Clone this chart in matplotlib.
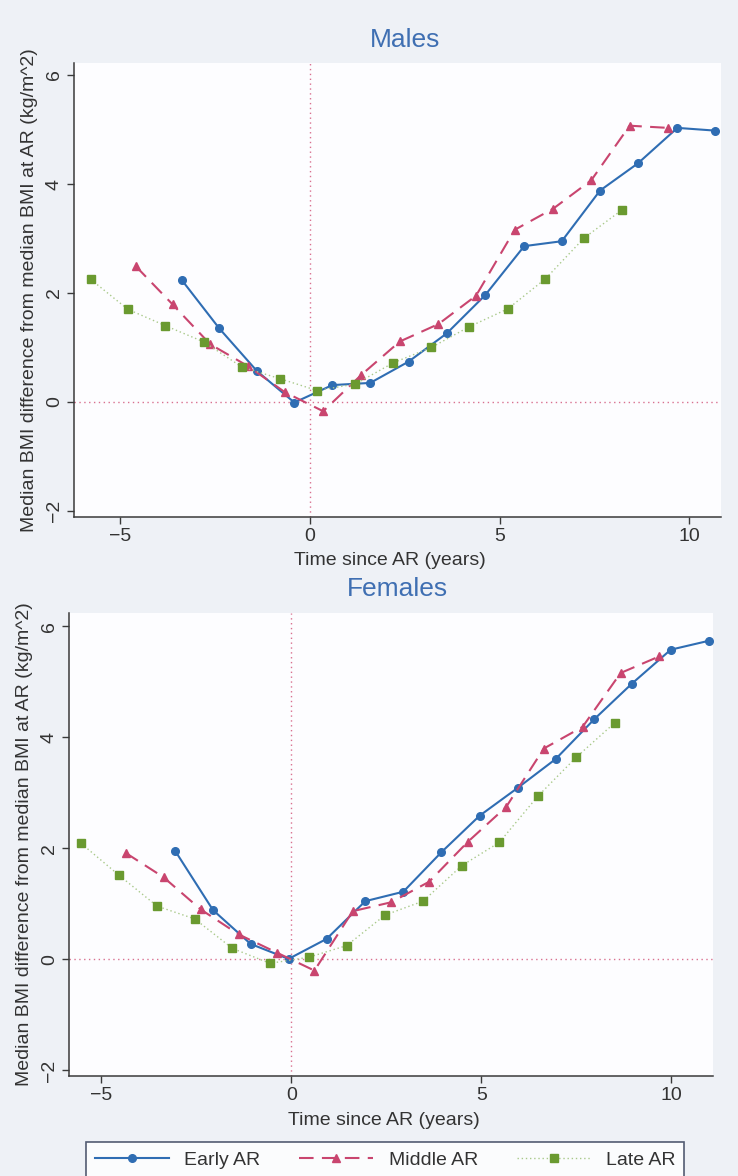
import matplotlib
matplotlib.use("Agg")
import matplotlib.pyplot as plt
from matplotlib.lines import Line2D

plt.rcParams['font.family'] = ['Liberation Sans', 'DejaVu Sans']

# ---------------- data ----------------
m_early_x = [-3.37, -2.39, -1.40, -0.41, 0.59, 1.59, 2.60, 3.61, 4.62, 5.65, 6.64, 7.65, 8.65, 9.69, 10.68]
m_early_y = [2.23, 1.35, 0.57, -0.01, 0.31, 0.35, 0.74, 1.26, 1.96, 2.86, 2.95, 3.88, 4.38, 5.03, 4.98]

m_mid_x = [-4.59, -3.62, -2.63, -1.64, -0.66, 0.35, 1.36, 2.37, 3.39, 4.38, 5.40, 6.42, 7.42, 8.43, 9.44]
m_mid_y = [2.49, 1.79, 1.06, 0.66, 0.18, -0.17, 0.50, 1.11, 1.43, 1.95, 3.16, 3.55, 4.07, 5.07, 5.03]

m_late_x = [-5.78, -4.80, -3.81, -2.79, -1.79, -0.80, 0.19, 1.20, 2.20, 3.20, 4.20, 5.22, 6.21, 7.23, 8.24]
m_late_y = [2.25, 1.70, 1.40, 1.10, 0.64, 0.43, 0.21, 0.33, 0.72, 1.00, 1.38, 1.71, 2.26, 3.01, 3.53]

f_early_x = [-3.05, -2.06, -1.07, -0.07, 0.93, 1.95, 2.95, 3.95, 4.96, 5.96, 6.96, 7.98, 8.97, 9.99, 10.99]
f_early_y = [1.95, 0.89, 0.28, 0.01, 0.37, 1.05, 1.22, 1.93, 2.59, 3.09, 3.61, 4.33, 4.97, 5.58, 5.74]

f_mid_x = [-4.36, -3.36, -2.38, -1.38, -0.37, 0.61, 1.62, 2.63, 3.63, 4.65, 5.66, 6.65, 7.67, 8.67, 9.69]
f_mid_y = [1.92, 1.48, 0.90, 0.45, 0.12, -0.20, 0.87, 1.03, 1.40, 2.12, 2.75, 3.80, 4.19, 5.16, 5.46]

f_late_x = [-5.53, -4.54, -3.53, -2.54, -1.55, -0.56, 0.46, 1.46, 2.47, 3.47, 4.49, 5.48, 6.49, 7.50, 8.51]
f_late_y = [2.09, 1.52, 0.96, 0.73, 0.20, -0.07, 0.04, 0.25, 0.80, 1.05, 1.69, 2.11, 2.94, 3.64, 4.26]

series_labels = ["Early AR", "Middle AR", "Late AR"]
x_ticks = [-5, 0, 5, 10]
y_ticks = [-2, 0, 2, 4, 6]
panel_titles = ["Males", "Females"]
x_label = "Time since AR (years)"
y_label = "Median BMI difference from median BMI at AR (kg/m^2)"

# ---------------- style ----------------
BLUE = '#2f6db3'
RED = '#c9456f'
GREEN = '#6a9a30'
GREEN_LINE = '#a9c98a'
REF = '#d9708f'
TITLE_C = '#3f6fb2'
AX_C = '#3a3a3a'

fig = plt.figure(figsize=(7.38, 11.76), dpi=100, facecolor='#eef1f6')

panels = [
    dict(rect=[0.1003, 0.5604, 0.8767, 0.3860], xlim=(-6.22, 10.84), ylim=(-2.11, 6.22),
         data=[(m_early_x, m_early_y), (m_mid_x, m_mid_y), (m_late_x, m_late_y)],
         title=panel_titles[0], title_xy=(0.549, 0.966), xl_y=0.523),
    dict(rect=[0.0935, 0.0850, 0.8725, 0.3937], xlim=(-5.85, 11.10), ylim=(-2.10, 6.24),
         data=[(f_early_x, f_early_y), (f_mid_x, f_mid_y), (f_late_x, f_late_y)],
         title=panel_titles[1], title_xy=(0.539, 0.499), xl_y=0.0476),
]

styles = [
    dict(color=BLUE, ls='-', lw=1.5, marker='o', ms=5.5, mfc=BLUE, mec=BLUE),
    dict(color=RED, ls=(0, (7, 4)), lw=1.5, marker='^', ms=6, mfc=RED, mec=RED),
    dict(color=GREEN_LINE, ls=(0, (1, 2)), lw=1.0, marker='s', ms=5.5, mfc=GREEN, mec=GREEN),
]

for p in panels:
    ax = fig.add_axes(p['rect'])
    ax.set_facecolor('#fdfdff')
    ax.axvline(0, color=REF, ls=(0, (1, 2.5)), lw=1.0, zorder=1)
    ax.axhline(0, color=REF, ls=(0, (1, 2.5)), lw=1.0, zorder=1)
    for (xs, ys), st in zip(p['data'], styles):
        ax.plot(xs, ys, zorder=3, **st)
    ax.set_xlim(*p['xlim'])
    ax.set_ylim(*p['ylim'])
    ax.set_xticks(x_ticks)
    ax.set_yticks(y_ticks)
    ax.set_yticklabels([str(v).replace('-', '\u2212') for v in y_ticks], rotation=90, va='center')
    ax.set_xticklabels([str(v).replace('-', '\u2212') for v in x_ticks])
    for s in ['top', 'right']:
        ax.spines[s].set_visible(False)
    for s in ['left', 'bottom']:
        ax.spines[s].set_color(AX_C)
        ax.spines[s].set_linewidth(1.1)
    ax.tick_params(axis='both', direction='out', length=5, width=1, color=AX_C,
                   labelsize=14, labelcolor='#333333', pad=3)
    ax.set_ylabel(y_label, fontsize=14, color='#333333', labelpad=6)
    fig.text(0.5 * (p['rect'][0] * 2 + p['rect'][2]) - 0.01, p['xl_y'], x_label, fontsize=14,
             color='#333333', ha='center', va='center')
    fig.text(p['title_xy'][0], p['title_xy'][1], p['title'], fontsize=19, color=TITLE_C,
             ha='center', va='center')

handles = [Line2D([0], [0], **st) for st in styles]
leg = fig.legend(handles, series_labels, loc='upper center', bbox_to_anchor=(0.522, 0.0285),
                 ncol=3, fontsize=14, frameon=True, fancybox=False, handlelength=3.8,
                 handletextpad=0.8, columnspacing=2.0, borderpad=0.45, borderaxespad=0.0,
                 numpoints=1)
leg.get_frame().set_edgecolor('#2a3550')
leg.get_frame().set_linewidth(1.2)
leg.get_frame().set_facecolor('white')
for t in leg.get_texts():
    t.set_color('#333333')

fig.savefig('out.png', dpi=100, facecolor=fig.get_facecolor())
